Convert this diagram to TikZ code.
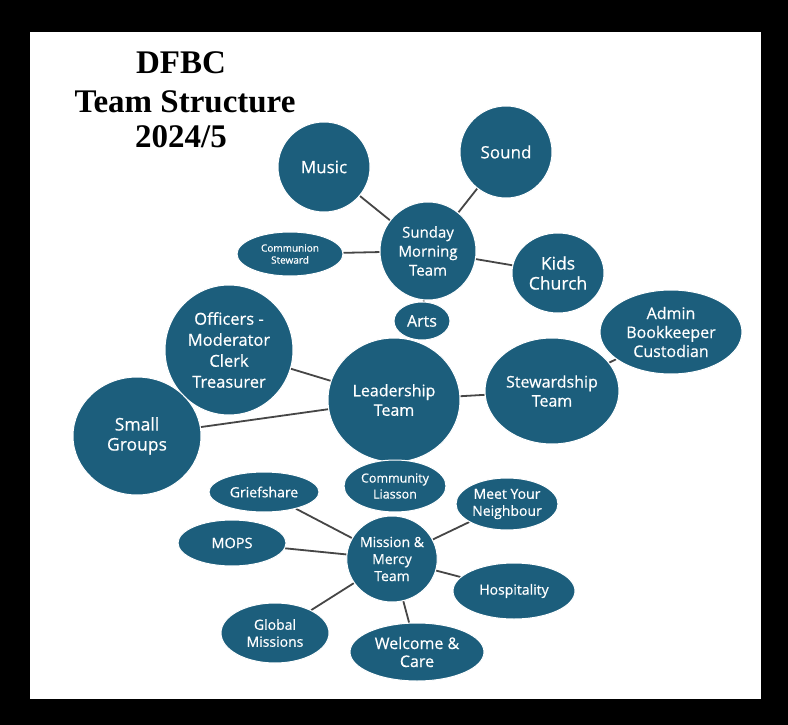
\documentclass[tikz,border=0pt]{standalone}
\usepackage{fontspec}
\setmainfont{Open Sans}[FakeBold=0.5]
\newfontfamily\titlefont{Liberation Serif}
\usetikzlibrary{shapes.geometric,backgrounds}
\definecolor{bubble}{RGB}{28,94,124}
\definecolor{linkgray}{RGB}{70,70,70}
\begin{document}
\begin{tikzpicture}[x=1pt,y=-1pt,
  bub/.style={ellipse, fill=bubble, draw=white, line width=1pt, text=white, inner sep=0pt, align=center},
  link/.style={draw=linkgray, line width=1.8pt},
  ttl/.style={anchor=base, font=\titlefont\bfseries\fontsize{33}{37}\selectfont}]
\useasboundingbox (0,0) rectangle (788,725);

% title
\node[ttl] (t1) at (181,74) {DFBC};
\node[ttl] (t2) at (185,113) {Team Structure};
\node[ttl] (t3) at (181,147) {2024/5};

% Sunday cluster
\node[bub, minimum width=92pt, minimum height=90pt, font=\fontsize{17}{20}\selectfont] (music) at (324,167) {Music};
\node[bub, minimum width=92pt, minimum height=92pt, font=\fontsize{17}{20}\selectfont] (sound) at (506,152) {Sound};
\node[bub, minimum width=96pt, minimum height=98pt, font=\fontsize{15}{19}\selectfont] (sunday) at (428,251) {Sunday\\Morning\\Team};
\node[bub, minimum width=106pt, minimum height=44pt, font=\fontsize{10}{12}\selectfont] (communion) at (290,254) {Communion\\Steward};
\node[bub, minimum width=92pt, minimum height=80pt, font=\fontsize{17.5}{20}\selectfont] (kids) at (558,273) {Kids\\Church};

% Leadership cluster
\node[bub, minimum width=132pt, minimum height=124pt, font=\fontsize{16}{19.5}\selectfont] (leader) at (394,400) {Leadership\\Team};
\node[bub, minimum width=56pt, minimum height=38pt, font=\fontsize{16}{19}\selectfont] (arts) at (422,321) {Arts};
\node[bub, minimum width=128pt, minimum height=130pt, font=\fontsize{16.5}{21}\selectfont] (officers) at (229,350) {Officers -\\Moderator\\Clerk\\Treasurer};
\node[bub, minimum width=128pt, minimum height=118pt, font=\fontsize{17.5}{20}\selectfont] (small) at (137,436) {Small\\Groups};
\node[bub, minimum width=134pt, minimum height=106pt, font=\fontsize{16}{19}\selectfont] (steward) at (552,391) {Stewardship\\Team};
\node[bub, minimum width=142pt, minimum height=84pt, font=\fontsize{16}{19}\selectfont] (admin) at (671,332) {Admin\\Bookkeeper\\Custodian};
\node[bub, minimum width=102pt, minimum height=52pt, font=\fontsize{12.5}{16}\selectfont] (community) at (395,486) {Community\\Liasson};

% Mission cluster
\node[bub, minimum width=110pt, minimum height=40pt, font=\fontsize{14}{17}\selectfont] (grief) at (264,492) {Griefshare};
\node[bub, minimum width=102pt, minimum height=52pt, font=\fontsize{14}{17}\selectfont] (neighbour) at (507,504) {Meet Your\\Neighbour};
\node[bub, minimum width=90pt, minimum height=86pt, font=\fontsize{14}{17}\selectfont] (mission) at (392,559) {Mission \&\\Mercy\\Team};
\node[bub, minimum width=108pt, minimum height=46pt, font=\fontsize{14.5}{17}\selectfont] (mops) at (232,543) {MOPS};
\node[bub, minimum width=122pt, minimum height=56pt, font=\fontsize{14}{17}\selectfont] (hosp) at (514,591) {Hospitality};
\node[bub, minimum width=108pt, minimum height=60pt, font=\fontsize{14}{17}\selectfont] (global) at (275,633) {Global\\Missions};
\node[bub, minimum width=134pt, minimum height=58pt, font=\fontsize{16}{18}\selectfont] (welcome) at (417,652) {Welcome \&\\Care};

\begin{pgfonlayer}{background}
\fill[black] (0,0) rectangle (788,725);
\fill[white] (30,32) rectangle (761,699);
\draw[link] (music) -- (sunday);
\draw[link] (sound) -- (sunday);
\draw[link] (communion) -- (sunday);
\draw[link] (kids) -- (sunday);
\draw[link] (sunday) -- (arts);
\draw[link] (officers) -- (leader);
\draw[link] (small) -- (leader);
\draw[link] (leader) -- (steward);
\draw[link] (steward) -- (admin);
\draw[link] (grief) -- (mission);
\draw[link] (mops) -- (mission);
\draw[link] (neighbour) -- (mission);
\draw[link] (hosp) -- (mission);
\draw[link] (global) -- (mission);
\draw[link] (welcome) -- (mission);
\end{pgfonlayer}
\end{tikzpicture}
\end{document}
